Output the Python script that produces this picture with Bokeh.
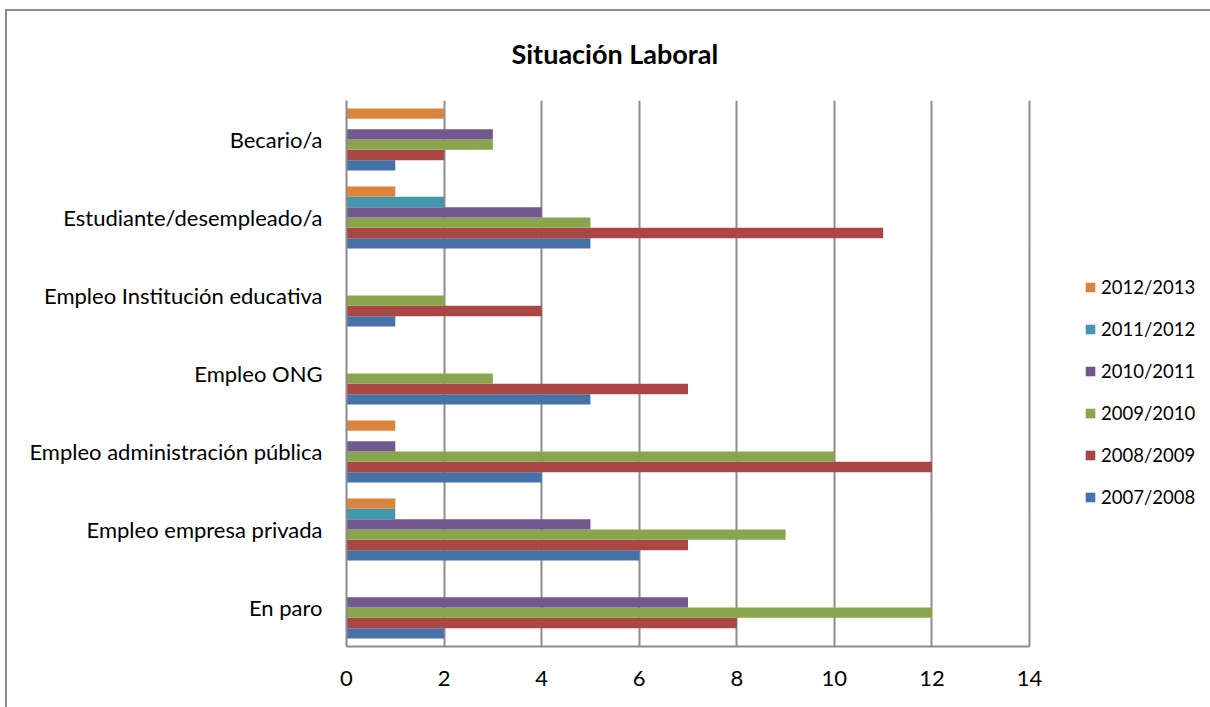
from bokeh.plotting import figure
from bokeh.models import FactorRange, ColumnDataSource, Legend, LegendItem, FixedTicker, InlineStyleSheet
from bokeh.transform import dodge
from bokeh.embed import file_html
from bokeh.resources import INLINE

categories = ["En paro", "Empleo empresa privada", "Empleo administración pública",
              "Empleo ONG", "Empleo Institución educativa", "Estudiante/desempleado/a", "Becario/a"]
series = ["2007/2008", "2008/2009", "2009/2010", "2010/2011", "2011/2012", "2012/2013"]
v2007 = [2, 6, 4, 5, 1, 5, 1]
v2008 = [8, 7, 12, 7, 4, 11, 2]
v2009 = [12, 9, 10, 3, 2, 5, 3]
v2010 = [7, 5, 1, 0, 0, 4, 3]
v2011 = [0, 1, 0, 0, 0, 2, 0]
v2012 = [0, 1, 1, 0, 0, 1, 2]
x_ticks = [0, 2, 4, 6, 8, 10, 12, 14]
colors = ["#4572A7", "#AA4643", "#89A54E", "#71588F", "#4198AF", "#DB843D"]

FONT = "Lato"
src = ColumnDataSource(dict(cat=categories, s0=v2007, s1=v2008, s2=v2009, s3=v2010, s4=v2011, s5=v2012))

W, H = 1200, 699
BL, BR, BT, BB = 346, 0, 100, 53
# the frame extends past 14 so the legend can live inside it; axis/grid stop at 14
x_end = 14 * (W - BL - BR) / 683.0

p = figure(width=W, height=H, y_range=FactorRange(*categories), x_range=(0, x_end),
           output_backend="svg", toolbar_location=None,
           min_border_left=BL, min_border_right=BR, min_border_top=BT, min_border_bottom=BB)
p.y_range.range_padding = 0
p.stylesheets = [InlineStyleSheet(css=""":host::after { content: ""; position: absolute; left: 5px; top: 9px;
 right: -20px; bottom: -20px; border-left: 2px solid #8c8c8c; border-top: 2px solid #8c8c8c;
 pointer-events: none; z-index: 10; }""")]

p.title.text = "Situación Laboral"
p.title.text_font = FONT
p.title.text_font_size = "27px"
p.title.text_font_style = "bold"
p.title.text_color = "black"
p.title.align = "left"
p.title.offset = 165
p.title.standoff = 61

bh = 0.1325
renderers = []
for i, name in enumerate(series):
    r = p.hbar(y=dodge("cat", (i - 2.5) * bh, range=p.y_range), right="s%d" % i, left=0,
               height=bh, source=src, fill_color=colors[i], line_color=None)
    renderers.append(r)

p.outline_line_color = None
p.xgrid.ticker = FixedTicker(ticks=x_ticks)
p.xgrid.grid_line_color = "#8c8c8c"
p.xgrid.grid_line_width = 2
p.ygrid.grid_line_color = None

p.xaxis.ticker = FixedTicker(ticks=x_ticks)
p.xaxis.bounds = (x_ticks[0], x_ticks[-1])
for ax in (p.xaxis, p.yaxis):
    ax.axis_line_color = "#8c8c8c"
    ax.axis_line_width = 2
    ax.major_tick_line_color = None
    ax.minor_tick_line_color = None
    ax.major_label_text_font = FONT
    ax.major_label_text_color = "black"
p.xaxis.major_label_text_font_size = "22px"
p.xaxis.major_label_standoff = 18
p.yaxis.major_label_text_font_size = "22px"
p.yaxis.major_label_standoff = 18

items = [LegendItem(label=series[i], renderers=[renderers[i]]) for i in reversed(range(len(series)))]
legend = Legend(items=items, location=(738, 138), orientation="vertical",
                label_text_font=FONT, label_text_font_size="18.5px", label_text_color="black",
                glyph_width=12, glyph_height=12, label_height=22, spacing=20,
                label_standoff=5, padding=0, margin=0, border_line_color=None,
                background_fill_alpha=0)
p.add_layout(legend, "center")

open("out.html", "w").write(file_html(p, INLINE))
